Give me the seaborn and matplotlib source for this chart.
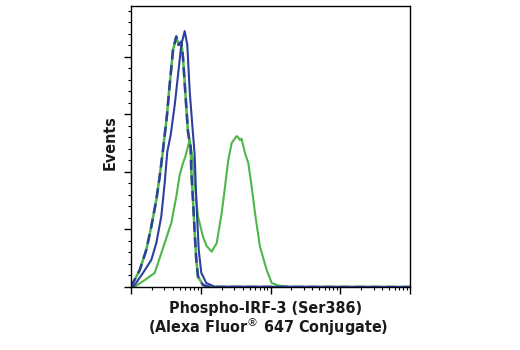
import numpy as np
import pandas as pd
import matplotlib
matplotlib.use("Agg")
import matplotlib.pyplot as plt
import seaborn as sns
from matplotlib import font_manager as fm
from matplotlib.ticker import LogLocator, MultipleLocator, NullFormatter

# Data: log10 intensity offsets (decades from 10^1) and event percentages
blue_u = [0, 0.053, 0.172, 0.291, 0.363, 0.434, 0.483, 0.520, 0.569, 0.627, 0.674, 0.721,
          0.770, 0.807, 0.842, 0.879, 0.913, 0.936, 0.971, 1.008, 1.080, 1.20, 4.0]
blue_v = [0, 0.7, 4.9, 9.4, 15.3, 24.5, 36.2, 47.0, 52.9, 63.3, 73.7, 84.2,
          89.0, 84.2, 67.9, 56.3, 45.9, 30.3, 12.9, 4.9, 1.4, 0.1, 0]

dash_u = [0, 0.029, 0.125, 0.219, 0.291, 0.363, 0.411, 0.459, 0.516, 0.545, 0.578, 0.602,
          0.649, 0.681, 0.721, 0.746, 0.778, 0.817, 0.856, 0.864, 0.889, 0.913, 0.936,
          0.961, 1.032, 1.13, 4.0]
dash_v = [0, 1.4, 5.9, 12.9, 21.0, 30.3, 38.4, 47.7, 59.8, 67.9, 76.2, 82.4,
          87.1, 84.2, 85.3, 79.7, 67.9, 54.0, 48.3, 40.7, 30.3, 18.8, 9.4,
          3.6, 0.7, 0, 0]

green_u = [0, 0.053, 0.196, 0.34, 0.387, 0.483, 0.578, 0.649, 0.698, 0.746, 0.781, 0.84,
           0.889, 0.913, 0.961, 1.032, 1.082, 1.157, 1.229, 1.300, 1.348, 1.395, 1.444,
           1.515, 1.541, 1.563, 1.585, 1.634, 1.682, 1.730, 1.778, 1.849, 1.946, 2.017,
           2.112, 2.28, 4.0]
green_v = [0, 0.1, 2.4, 4.9, 8.3, 15.3, 22.3, 31.4, 39.0, 43.1, 45.5, 51.1,
           44.2, 36.2, 24.5, 17.5, 14.3, 12.3, 15.3, 25.7, 34.9, 44.2, 50.1,
           52.5, 51.8, 51.1, 51.6, 46.6, 43.1, 34.9, 25.7, 14.0, 5.9, 1.4,
           0.5, 0, 0]

xlabel_lines = ["Phospho-IRF-3 (Ser386)", r"(Alexa Fluor$^{\circledR}$ 647 Conjugate)"]
ylabel = "Events"

sns.set_theme(style="white")
names = {f.name for f in fm.fontManager.ttflist}
fam = ["Liberation Sans Narrow", "DejaVu Sans"] if "Liberation Sans Narrow" in names else ["DejaVu Sans"]
plt.rcParams["font.family"] = fam

BLUE = "#2e3f9e"
GREEN = "#4cb848"

fig = plt.figure(figsize=(5.2, 3.5), dpi=100)
ax = fig.add_axes([131/520, 1 - 287/350, (410 - 131)/520, (287 - 5.5)/350])

dfb = pd.DataFrame({"x": 10 ** (1 + np.array(blue_u)), "y": blue_v})
dfd = pd.DataFrame({"x": 10 ** (1 + np.array(dash_u)), "y": dash_v})
dfg = pd.DataFrame({"x": 10 ** (1 + np.array(green_u)), "y": green_v})

sns.lineplot(data=dfg, x="x", y="y", ax=ax, color=GREEN, lw=1.5, sort=False)
sns.lineplot(data=dfd, x="x", y="y", ax=ax, color=GREEN, lw=1.8, sort=False)
sns.lineplot(data=dfd, x="x", y="y", ax=ax, color=BLUE, lw=1.8, sort=False).lines[-1].set_dashes([4.0, 2.2])
sns.lineplot(data=dfb, x="x", y="y", ax=ax, color=BLUE, lw=1.5, sort=False)

ax.set_xscale("log")
ax.set_xlim(10, 1e5)
ax.set_ylim(0, 97.9)
ax.xaxis.set_major_locator(LogLocator(base=10, numticks=10))
ax.xaxis.set_minor_locator(LogLocator(base=10, subs=np.arange(2, 10), numticks=20))
ax.xaxis.set_major_formatter(NullFormatter())
ax.xaxis.set_minor_formatter(NullFormatter())
ax.yaxis.set_major_locator(MultipleLocator(20))
ax.yaxis.set_minor_locator(MultipleLocator(4))
ax.yaxis.set_major_formatter(NullFormatter())
ax.set_xlabel("")
ax.set_ylabel("")
for s in ax.spines.values():
    s.set_color("black")
    s.set_linewidth(1.0)
ax.tick_params(which="major", direction="out", length=5, width=1.0, color="black",
               bottom=True, left=True, top=False, right=False)
ax.tick_params(which="minor", direction="out", length=2.5, width=0.8, color="black",
               bottom=True, left=True, top=False, right=False)

tk = dict(ha="center", va="center", fontsize=11.5, fontweight="bold",
          fontstretch="condensed", color="#1a1a1a")
fig.text(266/520, 1 - 309/350, xlabel_lines[0], **tk)
fig.text(268/520, 1 - 327/350, xlabel_lines[1], **tk)
fig.text(110/520, 1 - 143/350, ylabel, rotation=90, **tk)

fig.savefig("out.png", dpi=100, facecolor="white")
